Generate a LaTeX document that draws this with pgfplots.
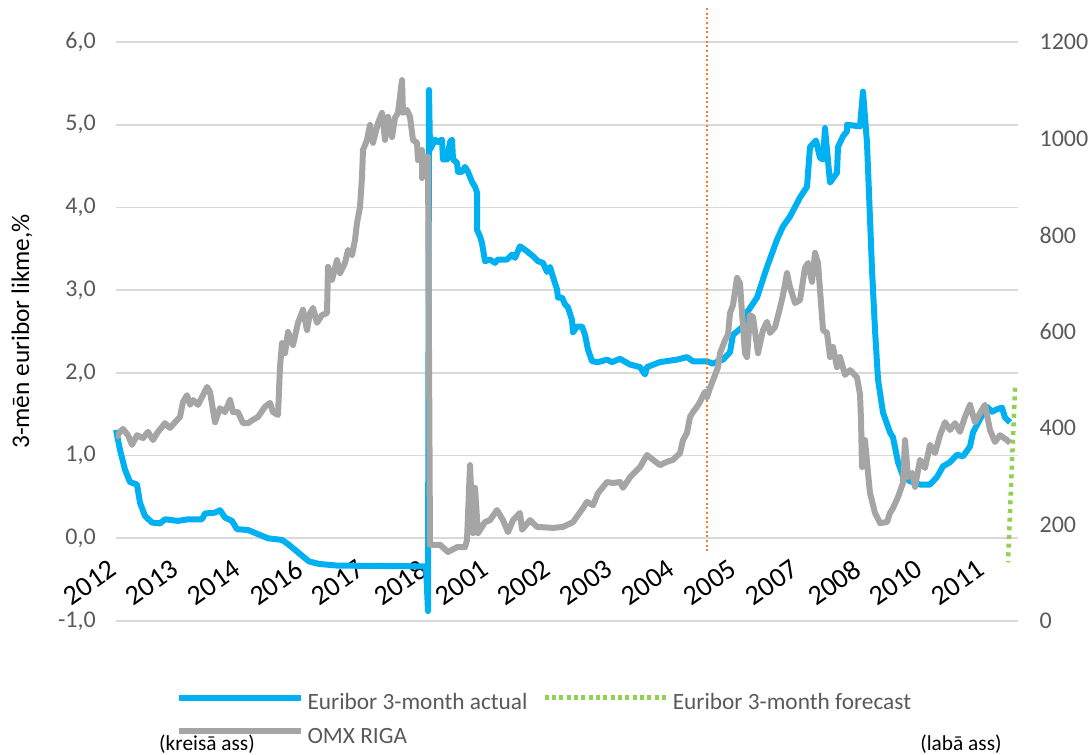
\documentclass[border=0pt]{standalone}
\usepackage{pgfplots}
\pgfplotsset{compat=1.18}
\usepackage{fontspec}
\setmainfont{Carlito}
\definecolor{eblue}{HTML}{00B0F0}
\definecolor{ogray}{HTML}{A5A5A5}
\definecolor{forange}{HTML}{ED7D31}
\definecolor{fgreen}{HTML}{92D050}
\definecolor{gridc}{HTML}{D9D9D9}
\definecolor{labc}{HTML}{595959}
\begin{document}
\begin{tikzpicture}
\useasboundingbox (-87pt,-100.5pt) rectangle (729.75pt,465.75pt);
\begin{axis}[
  scale only axis, width=676.5pt, height=434.25pt,
  xmin=0, xmax=902, ymin=-1, ymax=6,
  clip=false,
  axis line style={draw=none}, tick style={draw=none},
  ymajorgrids, grid style={gridc, line width=1.3pt},
  ytick={-1,0,1,2,3,4,5,6},
  yticklabels={{-1,0},{0,0},{1,0},{2,0},{3,0},{4,0},{5,0},{6,0}},
  yticklabel style={anchor=east, inner sep=0pt, xshift=-15pt, text=labc, font=\fontsize{18}{20}\selectfont},
  xtick={0,62,124,186,248,310,372,434,496,558,620,682,744,806,868},
  xticklabels={2012,2013,2014,2016,2017,2018,2001,2002,2003,2004,2005,2007,2008,2010,2011},
  xticklabel style={xshift=-6pt, yshift=47pt, rotate=35, anchor=north east, inner sep=0pt, text=black, font=\fontsize{21}{23}\selectfont},
  ylabel={3-mēn euribor likme,\%},
  ylabel style={at={(axis description cs:-0.1042,0.5)}, anchor=center, text=black, font=\fontsize{19}{21}\selectfont},
]
\addplot[eblue, line width=4.5pt, line join=round] coordinates {
(0,1.31) (4,1.07) (9,0.83) (14,0.68) (21,0.65) (24,0.43) (29,0.27) (36,0.19) (44,0.18) (49,0.23)
(62,0.21) (72,0.23) (86,0.23) (89,0.30) (99,0.31) (104,0.34) (109,0.25) (116,0.21) (121,0.11) (132,0.10)
(142,0.05) (152,0.0) (166,-0.02) (172,-0.07) (182,-0.17) (193,-0.28) (203,-0.31) (221,-0.33) (310,-0.34) (312,-0.88)
(313,5.42) (314,4.70) (319,4.82) (322,4.79) (326,4.82) (327,4.58) (331,4.58) (334,4.79) (336,4.82) (337,4.58)
(341,4.54) (342,4.43) (346,4.43) (349,4.49) (352,4.43) (356,4.31) (359,4.25) (361,4.18) (361,3.73) (364,3.65)
(366,3.57) (369,3.35) (374,3.37) (379,3.33) (382,3.37) (391,3.37) (396,3.43) (399,3.39) (404,3.53) (411,3.47)
(417,3.41) (422,3.35) (427,3.33) (431,3.22) (434,3.28) (437,3.16) (441,3.01) (442,2.91) (446,2.91) (449,2.83)
(452,2.79) (456,2.64) (457,2.49) (461,2.56) (466,2.56) (469,2.46) (472,2.28) (476,2.14) (482,2.13) (491,2.16)
(496,2.13) (504,2.17) (514,2.10) (524,2.07) (529,1.98) (531,2.07) (544,2.13) (561,2.16) (571,2.19) (577,2.14)
(591,2.14) (597,2.11) (602,2.14) (607,2.16) (614,2.25) (617,2.46) (627,2.56) (631,2.73) (641,2.91) (651,3.28)
(661,3.61) (667,3.77) (674,3.89) (684,4.12) (691,4.25) (694,4.73) (700,4.81) (704,4.60) (707,4.58) (709,4.96)
(714,4.30) (721,4.42) (722,4.73) (727,4.86) (731,4.92) (731,5.00) (744,4.98) (747,5.40) (751,4.78) (756,3.25)
(759,2.52) (762,1.92) (767,1.52) (774,1.28) (777,1.22) (782,0.92) (787,0.75) (794,0.69) (804,0.65) (814,0.65)
(821,0.74) (827,0.87) (834,0.92) (841,1.01) (847,0.99) (854,1.11) (857,1.28) (864,1.44) (871,1.59) (876,1.53)
(881,1.56) (886,1.58) (889,1.46) (894,1.40)
};
\addplot[forange, line width=1.5pt, dash pattern=on 1.5pt off 2pt] coordinates {(591,6.41) (591,-0.19)};
\addplot[fgreen, line width=3.4pt, dash pattern=on 3pt off 3.5pt] coordinates {(899,1.82) (892,-0.29)};
\node[anchor=center, text=black, font=\fontsize{16}{18}\selectfont] at (axis description cs:0.1009,-0.212) {(kreisā ass)};
\node[anchor=center, text=black, font=\fontsize{16}{18}\selectfont] at (axis description cs:0.9368,-0.212) {(labā ass)};
\end{axis}
\begin{axis}[
  scale only axis, width=676.5pt, height=434.25pt,
  xmin=0, xmax=902, ymin=0, ymax=1200,
  axis x line=none, axis y line*=right,
  y axis line style={draw=none}, tick style={draw=none},
  ytick={0,200,400,600,800,1000,1200},
  yticklabels={0,200,400,600,800,1000,1200},
  yticklabel style={anchor=west, inner sep=0pt, xshift=16pt, text=labc, font=\fontsize{18}{20}\selectfont},
  legend columns=2, legend cell align=left,
  legend image code/.code={\draw[#1] (0pt,5pt) -- (91.5pt,5pt);},
  legend style={at={(axis description cs:0.0660,-0.1727)}, anchor=west, draw=none, fill=none,
    inner sep=0pt, outer sep=0pt, text=labc, font=\fontsize{17.5}{19}\selectfont,
    nodes={inner sep=0pt, text height=12.5pt, text depth=4pt}, row sep=8.5pt,
    /tikz/every odd column/.append style={column sep=3pt},
    /tikz/every even column/.append style={column sep=11pt}},
]
\addlegendimage{eblue, line width=4.5pt}
\addlegendentry{Euribor 3-month actual}
\addlegendimage{fgreen, line width=3.4pt, dash pattern=on 3pt off 2.5pt}
\addlegendentry{Euribor 3-month forecast}
\addplot[ogray, line width=4.5pt, line join=round] coordinates {
(0,379) (4,392) (7,398) (12,385) (16,365) (21,385) (27,379) (32,392) (37,375) (42,392)
(49,410) (54,400) (59,412) (64,423) (67,454) (71,468) (74,448) (77,458) (82,448) (87,468)
(91,485) (94,475) (99,412) (104,441) (109,433) (114,458) (117,433) (122,433) (127,410) (132,410)
(137,417) (142,423) (149,444) (154,452) (157,433) (162,427) (164,526) (166,576) (169,555) (172,599)
(177,572) (182,618) (187,645) (191,603) (194,638) (197,649) (201,618) (206,634) (211,638) (212,734)
(216,707) (221,748) (224,721) (229,742) (232,769) (236,758) (239,790) (241,825) (244,858) (246,920)
(247,976) (251,997) (254,1028) (257,991) (262,1032) (266,1053) (269,997) (272,1045) (276,1003) (279,1043)
(282,1053) (286,1121) (287,1053) (291,1059) (294,1045) (297,997) (301,991) (302,955) (306,976) (306,918)
(309,962) (312,962) (314,158) (324,158) (332,143) (341,153) (349,153) (351,168) (354,323) (357,182)
(359,276) (362,182) (369,205) (374,209) (381,230) (387,209) (392,184) (397,209) (404,224) (406,189)
(414,209) (421,195) (437,193) (447,195) (457,205) (467,234) (471,247) (477,240) (482,265) (491,288)
(497,286) (504,288) (507,276) (514,298) (524,319) (531,344) (537,334) (544,323) (551,330) (557,334)
(564,348) (567,375) (571,390) (574,423) (577,433) (581,444) (584,454) (589,475) (591,464) (594,483)
(597,499) (602,526) (604,555) (609,582) (612,593) (614,638) (617,655) (621,711) (624,700) (626,638)
(629,555) (631,547) (634,634) (637,630) (642,555) (647,603) (651,620) (654,597) (659,609) (664,649)
(667,676) (671,721) (674,692) (679,659) (684,665) (689,732) (692,742) (696,703) (699,763) (702,742)
(707,603) (711,597) (714,547) (717,568) (721,526) (724,547) (729,510) (734,520) (741,505) (744,470)
(745,417) (746,319) (749,375) (752,307) (754,265) (759,224) (764,203) (771,205) (774,224) (777,234)
(782,257) (787,286) (789,375) (792,298) (796,307) (799,278) (804,334) (809,317) (814,365) (819,348)
(824,385) (829,412) (834,396) (839,410) (844,392) (849,423) (854,448) (859,412) (864,431) (869,448)
(874,396) (879,371) (884,385) (891,375) (894,369)
};
\addlegendentry{OMX RIGA}
\end{axis}
\end{tikzpicture}
\end{document}
